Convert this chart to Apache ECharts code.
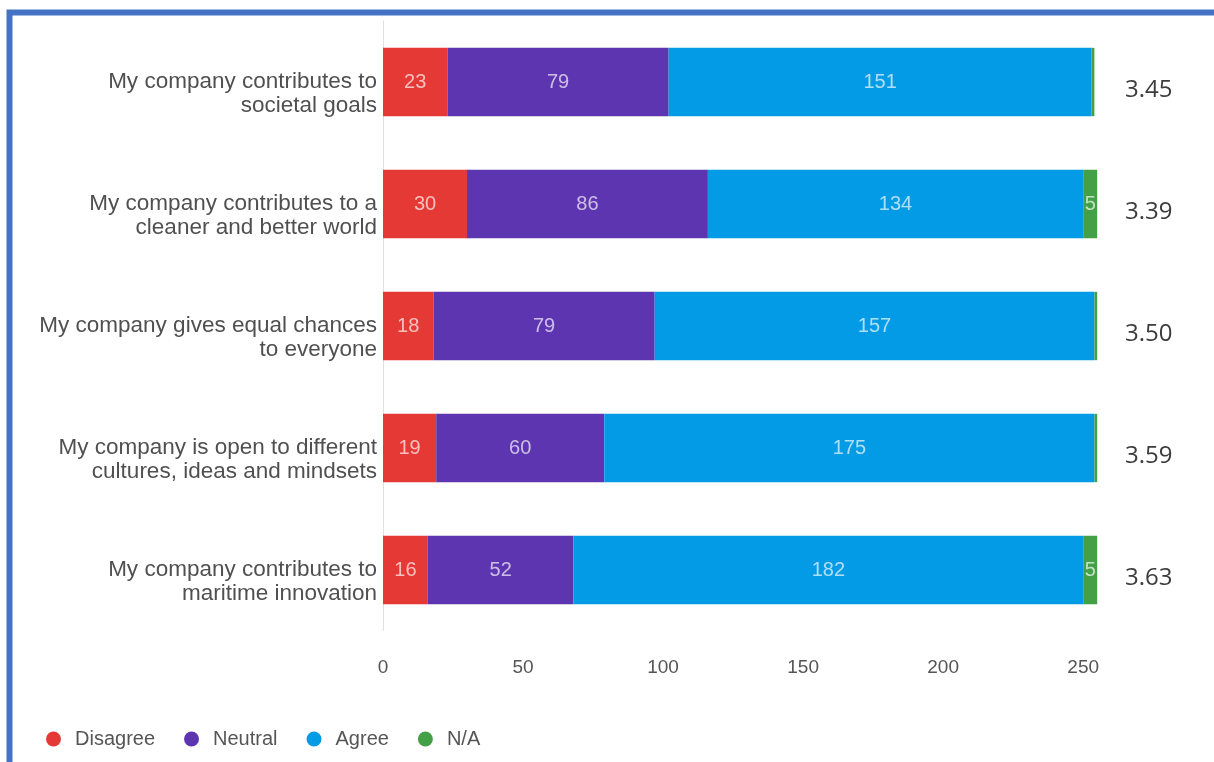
<!DOCTYPE html>
<html>
<head>
<meta charset="utf-8">
<script src="https://cdn.jsdelivr.net/npm/echarts@6/dist/echarts.min.js"></script>
<style>
  html, body { margin: 0; padding: 0; background: #ffffff; }
  #chart { width: 1214px; height: 762px; }
</style>
</head>
<body>
<div id="chart"></div>
<script>
// Survey statements (top to bottom)
const statements = [
  'My company contributes to\nsocietal goals',
  'My company contributes to a\ncleaner and better world',
  'My company gives equal chances\nto everyone',
  'My company is open to different\ncultures, ideas and mindsets',
  'My company contributes to\nmaritime innovation'
];

// Response counts per statement
const disagree = [23, 30, 18, 19, 16];
const neutral  = [79, 86, 79, 60, 52];
const agree    = [151, 134, 157, 175, 182];
const notApplicable = [1, 5, 1, 1, 5];

// Average score per statement
const meanScores = ['3.45', '3.39', '3.50', '3.59', '3.63'];

// Value axis ticks
const xTicks = [0, 50, 100, 150, 200, 250];
const xMax = 256;

const colors = {
  Disagree: '#E53935',
  Neutral: '#5E35B1',
  Agree: '#039BE5',
  'N/A': '#43A047'
};

const labelFont = "'Liberation Sans', Arial, sans-serif";

function segment(name, values) {
  return {
    name: name,
    type: 'bar',
    stack: 'responses',
    data: values,
    barCategoryGap: '44%',
    itemStyle: { color: colors[name] },
    label: {
      show: true,
      position: 'inside',
      color: 'rgba(255,255,255,0.68)',
      fontFamily: labelFont,
      fontSize: 20,
      formatter: p => (p.value >= 3 ? String(p.value) : '')
    },
    emphasis: { disabled: true }
  };
}

const chart = echarts.init(document.getElementById('chart'), null, { renderer: 'canvas' });

chart.setOption({
  animation: false,
  backgroundColor: '#ffffff',
  graphic: [{
    type: 'rect',
    shape: { x: 9.5, y: 12.5, width: 1400, height: 900 },
    style: { fill: 'none', stroke: '#4472C4', lineWidth: 6 },
    silent: true
  }],
  grid: { left: 383, right: 114, top: 21, bottom: 131, containLabel: false },
  legend: {
    left: 41,
    top: 724,
    icon: 'circle',
    itemWidth: 15,
    itemHeight: 15,
    itemGap: 29,
    data: ['Disagree', 'Neutral', 'Agree', 'N/A'],
    textStyle: {
      color: '#555555',
      fontFamily: labelFont,
      fontSize: 20,
      padding: [0, 0, 0, 9]
    }
  },
  xAxis: {
    type: 'value',
    min: xTicks[0],
    max: xMax,
    interval: xTicks[1] - xTicks[0],
    axisLine: { show: false },
    axisTick: { show: false },
    splitLine: { show: false },
    axisLabel: {
      color: '#555555',
      fontFamily: labelFont,
      fontSize: 19,
      margin: 27,
      showMaxLabel: false,
      formatter: v => (xTicks.indexOf(v) >= 0 ? String(v) : '')
    }
  },
  yAxis: [{
    type: 'category',
    inverse: true,
    data: statements,
    axisTick: { show: false },
    axisLine: { show: true, lineStyle: { color: '#d6dbe0', type: 'dotted', width: 1 } },
    axisLabel: {
      color: '#505050',
      fontFamily: labelFont,
      fontSize: 22.5,
      lineHeight: 24,
      align: 'right',
      margin: 6,
      // empty first line drops the two text lines so the first sits on the bar centre
      formatter: v => '\n' + v
    }
  }, {
    type: 'category',
    inverse: true,
    position: 'right',
    data: meanScores,
    axisTick: { show: false },
    axisLine: { show: false },
    axisLabel: {
      align: 'left',
      margin: 25,
      formatter: v => '{gap|}\n{v|' + v + '}',
      rich: {
        gap: { lineHeight: 16, fontSize: 1 },
        v: {
          color: '#3c3c3c',
          fontFamily: "'Open Sans', 'Noto Sans', sans-serif",
          fontSize: 24,
          lineHeight: 30
        }
      }
    }
  }],
  series: [
    segment('Disagree', disagree),
    segment('Neutral', neutral),
    segment('Agree', agree),
    segment('N/A', notApplicable)
  ]
});
</script>
</body>
</html>
